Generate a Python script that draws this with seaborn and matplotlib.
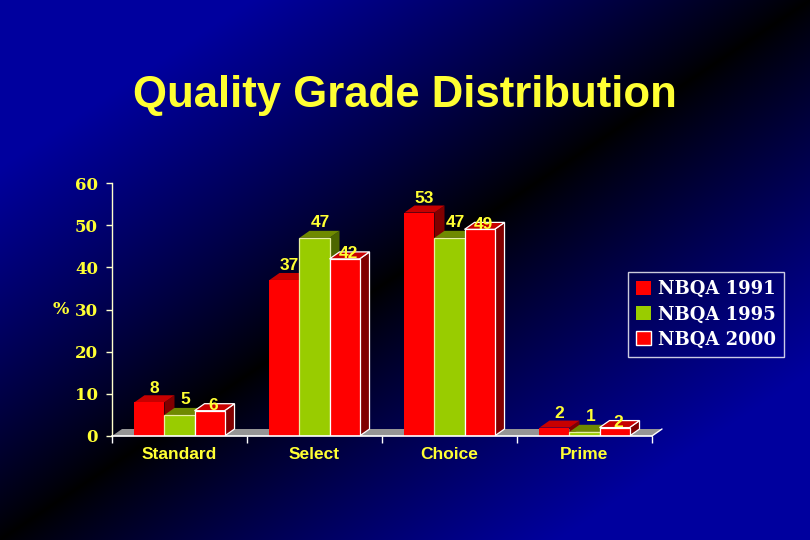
import numpy as np
import pandas as pd
import matplotlib
matplotlib.use("Agg")
import matplotlib.pyplot as plt
from matplotlib.patches import Polygon, Patch
import seaborn as sns

# ---- data ----
categories = ["Standard", "Select", "Choice", "Prime"]
series_names = ["NBQA 1991", "NBQA 1995", "NBQA 2000"]
nbqa_1991 = [8, 37, 53, 2]
nbqa_1995 = [5, 47, 47, 1]
nbqa_2000 = [6, 42, 49, 2]
y_ticks = [0, 10, 20, 30, 40, 50, 60]

df = pd.DataFrame({
    "grade": categories * 3,
    "pct": nbqa_1991 + nbqa_1995 + nbqa_2000,
    "survey": [s for s in series_names for _ in categories],
})

sns.set_theme(style="white")
plt.rcParams["font.family"] = ["Liberation Sans", "DejaVu Sans"]

RED = "#ff0000"
GREEN = "#99cc00"
YELLOW = "#ffff33"
front_cols = [RED, GREEN, RED]
top_cols = ["#c80000", "#6f8a00", "#c80000"]
side_cols = ["#800000", "#4d6600", "#800000"]
edge_cols = ["none", "#e8f0a0", "white"]

fig = plt.figure(figsize=(8.1, 5.4), dpi=100)

# background gradient
bg = fig.add_axes([0, 0, 1, 1], zorder=-10)
H, W = 540, 810
u = np.linspace(0, 1, W)[None, :]
v = np.linspace(0, 1, H)[:, None]
t = np.clip(np.abs(u + v - 1.0) * 1.45, 0, 1) ** 0.85
img = np.zeros((H, W, 3))
img[..., 2] = 0.62 * t
bg.imshow(img, aspect="auto", extent=[0, 1, 0, 1], origin="upper")
bg.axis("off")

ax = fig.add_axes([112 / 810, 1 - 436 / 540, 540 / 810, 253 / 540])
ax.set_facecolor("none")

sns.barplot(data=df, x="grade", y="pct", hue="survey", order=categories,
            hue_order=series_names, palette=front_cols, saturation=1,
            width=0.667, ax=ax, legend=False, errorbar=None)

ax.set_xlim(-0.5, 3.5)
ax.set_ylim(0, 60)

# depth in data units (10 px right, 7 px up)
dx = 10 / 135.0
dy = 7 / (253 / 60.0)

# floor
floor = Polygon([(-0.5, 0), (3.5, 0), (3.5 + dx, dy), (-0.5 + dx, dy)],
                closed=True, facecolor="#959595", edgecolor="none",
                zorder=1.5, clip_on=False)
ax.add_patch(floor)
ax.plot([3.5, 3.5 + dx], [0, dy], color="white", lw=1, clip_on=False, zorder=1.6)

label_offsets = [(5, 14), (6, 15), (4, 5)]
for hi, cont in enumerate(ax.containers):
    for ci, bar in enumerate(cont.patches):
        k = ci * 3 + hi
        x0 = bar.get_x()
        w = bar.get_width()
        h = bar.get_height()
        x1 = x0 + w
        bar.set_zorder(4 + 2 * k)
        bar.set_edgecolor(edge_cols[hi])
        bar.set_linewidth(0.9 if hi else 0)
        side = Polygon([(x1, 0), (x1 + dx, dy), (x1 + dx, h + dy), (x1, h)],
                       closed=True, facecolor=side_cols[hi],
                       edgecolor=edge_cols[hi], lw=0.9 if hi == 2 else 0,
                       zorder=3 + 2 * k)
        top = Polygon([(x0, h), (x1, h), (x1 + dx, h + dy), (x0 + dx, h + dy)],
                      closed=True, facecolor=top_cols[hi],
                      edgecolor=edge_cols[hi], lw=0.9 if hi == 2 else 0,
                      zorder=3 + 2 * k)
        ax.add_patch(side)
        ax.add_patch(top)
        ox, oy = label_offsets[hi]
        ax.annotate(f"{h:g}", (x0 + w / 2, h), xytext=(ox, oy),
                    textcoords="offset pixels", ha="center", va="center",
                    color=YELLOW, fontsize=12.5, fontweight="bold",
                    family=["Liberation Sans"], zorder=200)

# axes styling
for s in ["top", "right"]:
    ax.spines[s].set_visible(False)
ax.spines["left"].set_color("#ffffcc")
ax.spines["left"].set_linewidth(1)
ax.spines["bottom"].set_color("white")
ax.spines["bottom"].set_linewidth(1.2)
ax.spines["bottom"].set_zorder(300)

ax.set_yticks(y_ticks)
ax.set_yticklabels([str(t) for t in y_ticks], family=["DejaVu Serif"],
                   fontweight="bold", fontsize=12, color=YELLOW)
ax.tick_params(axis="y", direction="out", length=4, width=1, color="#ffffcc",
               left=True, pad=6)

ax.set_xticks(range(len(categories)))
ax.set_xticklabels(categories, fontsize=12.5, fontweight="bold", color=YELLOW)
ax.tick_params(axis="x", which="major", length=0, pad=8)
ax.set_xticks([-0.5, 0.5, 1.5, 2.5, 3.5], minor=True)
ax.tick_params(axis="x", which="minor", direction="out", length=5, width=1,
               color="white", bottom=True)

ax.set_xlabel("")
ax.set_ylabel("%", rotation=0, color=YELLOW, fontsize=12.5, fontweight="bold",
              family=["DejaVu Serif"], va="center", ha="center")
ax.yaxis.set_label_coords(-0.095, 0.5)

# title
fig.text(0.5, 1 - 95 / 540, "Quality Grade Distribution", ha="center",
         va="center", color=YELLOW, fontsize=31.5, fontweight="bold",
         family=["Liberation Sans"])

# legend
handles = [Patch(facecolor=front_cols[i], edgecolor=edge_cols[i] if i == 2 else "none",
                 lw=1, label=series_names[i]) for i in range(3)]
leg = fig.legend(handles=handles, loc="upper left",
                 bbox_to_anchor=(628 / 810, 1 - 272 / 540), frameon=True,
                 prop={"family": "DejaVu Serif", "weight": "bold", "size": 13},
                 handlelength=0.8, handleheight=0.8, handletextpad=0.4,
                 labelspacing=0.4, borderpad=0.45, fancybox=False,
                 borderaxespad=0)
leg.get_frame().set_facecolor("none")
leg.get_frame().set_edgecolor("white")
leg.get_frame().set_linewidth(1)
for txt in leg.get_texts():
    txt.set_color("white")

fig.savefig("out.png", dpi=100)
